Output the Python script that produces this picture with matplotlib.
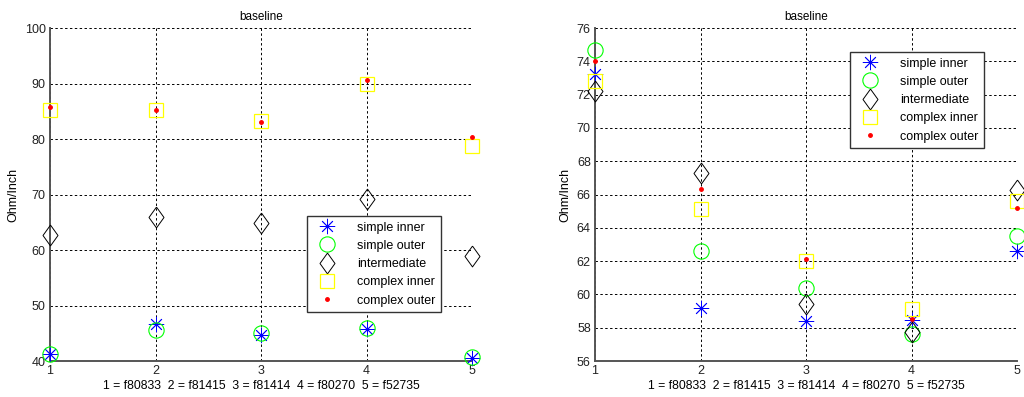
import matplotlib
matplotlib.use("Agg")
import matplotlib.pyplot as plt
import numpy as np

plt.rcParams["font.family"] = ["Liberation Sans", "DejaVu Sans"]

samples = [1, 2, 3, 4, 5]
xlabel_text = "1 = f80833  2 = f81415  3 = f81414  4 = f80270  5 = f52735"

# left panel
left_simple_inner = [41.2, 46.7, 44.6, 45.8, 40.6]
left_simple_outer = [41.3, 45.5, 45.1, 46.0, 40.7]
left_intermediate = [62.7, 66.0, 64.9, 69.1, 58.9]
left_complex_inner = [85.3, 85.3, 83.2, 89.9, 78.7]
left_complex_outer = [85.7, 85.2, 83.0, 90.6, 80.3]

# right panel
right_simple_inner = [73.25, 59.2, 58.4, 58.45, 62.6]
right_simple_outer = [74.7, 62.6, 60.4, 57.6, 63.5]
right_intermediate = [72.2, 67.3, 59.45, 57.75, 66.3]
right_complex_inner = [72.8, 65.1, 62.0, 59.1, 65.6]
right_complex_outer = [74.0, 66.35, 62.1, 58.55, 65.2]

labels = ["simple inner", "simple outer", "intermediate", "complex inner", "complex outer"]

diamond = [(0, 1), (0.72, 0), (0, -1), (-0.72, 0), (0, 1)]
styles = [
    dict(marker=(8, 2, 0), markersize=11, color="blue", mew=0.6),
    dict(marker="o", markersize=11, mfc="none", mec=(0, 1, 0), mew=0.8),
    dict(marker=diamond, markersize=15, mfc="none", mec="black", mew=0.7),
    dict(marker="s", markersize=10.5, mfc="none", mec=(1, 1, 0), mew=0.9),
    dict(marker=".", markersize=5, color="red"),
]

fig = plt.figure(figsize=(10.24, 3.97), dpi=100)
W, H = 1024, 397


def panel(rect, series, ylim, yticks, legend_rect):
    l, t, r, b = rect
    ax = fig.add_axes([l / W, 1 - b / H, (r - l) / W, (b - t) / H])
    for vals, lab, st in zip(series, labels, styles):
        ax.plot(samples, vals, linestyle="none", label=lab, clip_on=False, zorder=3, **st)
    ax.set_xlim(1, 5)
    ax.set_ylim(*ylim)
    ax.set_xticks(samples)
    ax.set_yticks(yticks)
    ax.grid(True, color="black", linestyle=(0, (2.5, 2.5)), linewidth=0.7)
    ax.set_axisbelow(True)
    for s in ["top", "right"]:
        ax.spines[s].set_visible(False)
    for s in ["left", "bottom"]:
        ax.spines[s].set_color("#555555")
        ax.spines[s].set_linewidth(1.4)
    ax.tick_params(direction="in", length=0, labelsize=9, pad=3, colors="#222222")
    ax.set_title("baseline", fontsize=8.5, pad=6)
    ax.set_ylabel("Ohm/Inch", fontsize=9, labelpad=4)
    ax.set_xlabel(xlabel_text, fontsize=8.8, labelpad=2)
    ll, lt, lr, lb = legend_rect
    bbox = ((ll - l) / (r - l), 1 - (lb - t) / (b - t), (lr - ll) / (r - l), (lb - lt) / (b - t))
    leg = ax.legend(loc="center", bbox_to_anchor=bbox, fontsize=9, frameon=True,
                    fancybox=False, edgecolor="#333333", framealpha=1,
                    handletextpad=1.3, labelspacing=0.5, borderpad=0.45, handlelength=2.2)
    leg.get_frame().set_linewidth(1.0)
    return ax


panel((50, 28, 472, 361),
      [left_simple_inner, left_simple_outer, left_intermediate, left_complex_inner, left_complex_outer],
      (40, 100), np.arange(40, 101, 10), (306, 216, 442, 312))
panel((595, 28, 1017, 361),
      [right_simple_inner, right_simple_outer, right_intermediate, right_complex_inner, right_complex_outer],
      (56, 76), np.arange(56, 77, 2), (849, 52, 985, 148))

fig.savefig("out.png", dpi=100)
